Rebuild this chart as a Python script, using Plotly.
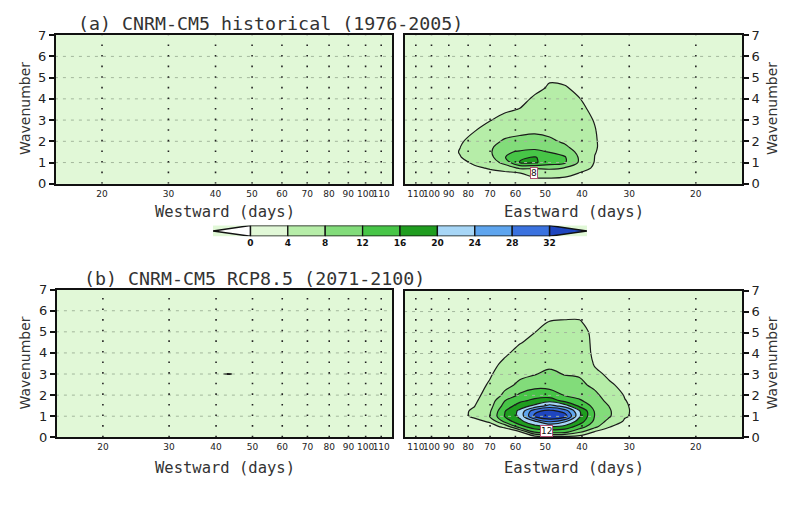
import numpy as np
import plotly.graph_objects as go

# ---------------- data ----------------
period_ticks = [20, 30, 40, 50, 60, 70, 80, 90, 100, 110]
wavenumber_ticks = [0, 1, 2, 3, 4, 5, 6, 7]
grid_wavenumbers = [1, 2, 3, 4, 5, 6]
levels = [0, 4, 8, 12, 16, 20, 24, 28, 32]
below_color = "#ffffff"
band_colors = ["#e1f8d7", "#b6eda8", "#82dc7a", "#47c547", "#1f9d1f",
               "#a7d6f6", "#5ea5ee", "#3a72df", "#1f46bf"]   # 0-4 ... >32

period_min, period_max = 15, 118

# eastward power (rows = wavenumber, columns = period)
k_rows = [0, 0.25, 0.5, 0.75, 1, 1.25, 1.5, 1.75, 2, 2.5, 3, 3.5, 4, 4.5, 5, 5.5, 6, 6.5, 7]
east_periods = [118, 95, 84, 77, 70, 64, 58.4, 53.3, 48.7, 44.4, 40.6, 37, 33.8, 30.8, 27.3, 22, 15]

hist_east_cols = [
    [1.0, 1.0, 1.0, 1.0, 1.0, 1.0, 1.0, 1.0, 1.0, 1.0, 1.0, 1.0, 1.0, 1.0, 1.0, 1.0, 1.0, 1.0, 1.0],
    [1.0, 1.2, 1.5, 1.8, 2.0, 2.2, 2.3, 2.2, 2.0, 1.7, 1.4, 1.2, 1.0, 1.0, 1.0, 1.0, 1.0, 1.0, 1.0],
    [1.2, 1.6, 2.2, 2.8, 3.5, 3.9, 4.15, 3.95, 3.6, 2.8, 2.2, 1.8, 1.5, 1.3, 1.2, 1.1, 1.0, 1.0, 1.0],
    [1.5, 2.2, 3.0, 3.7, 4.3, 5.0, 5.5, 5.6, 5.2, 3.9, 3.0, 2.4, 2.0, 1.6, 1.4, 1.2, 1.1, 1.0, 1.0],
    [2.0, 2.8, 3.5, 4.2, 5.5, 6.8, 7.5, 7.3, 6.5, 5.0, 3.9, 3.0, 2.4, 2.0, 1.6, 1.3, 1.1, 1.0, 1.0],
    [2.5, 3.0, 3.3, 5.5, 9.5, 11.8, 11.5, 10.0, 8.6, 6.2, 4.8, 3.6, 2.8, 2.2, 1.8, 1.4, 1.2, 1.0, 1.0],
    [3.0, 3.3, 3.9, 8.8, 16.2, 15.5, 12.4, 10.5, 9.2, 7.0, 5.2, 4.1, 3.2, 2.5, 2.0, 1.6, 1.3, 1.1, 1.0],
    [3.2, 3.8, 5.0, 8.5, 16.5, 16.2, 13.0, 10.8, 9.4, 7.4, 6.0, 5.0, 4.4, 3.4, 2.6, 2.0, 1.6, 1.3, 1.1],
    [3.3, 3.9, 5.2, 9.0, 14.0, 14.5, 11.8, 10.3, 8.7, 7.0, 5.9, 5.1, 4.7, 4.3, 3.7, 2.6, 2.0, 1.6, 1.3],
    [3.1, 3.7, 4.9, 7.9, 12.5, 12.3, 10.5, 8.6, 7.4, 6.2, 5.4, 4.9, 4.5, 4.2, 3.5, 2.6, 2.0, 1.6, 1.3],
    [2.8, 3.3, 3.9, 5.5, 7.4, 7.5, 6.8, 6.0, 5.5, 5.0, 4.7, 4.4, 4.05, 3.5, 2.8, 2.2, 1.8, 1.4, 1.2],
    [2.2, 2.6, 3.0, 3.5, 3.8, 3.95, 4.1, 4.2, 4.2, 4.1, 3.9, 3.6, 3.2, 2.8, 2.3, 1.9, 1.6, 1.3, 1.1],
    [1.8, 2.0, 2.3, 2.6, 2.8, 3.0, 3.1, 3.1, 3.0, 2.9, 2.7, 2.5, 2.3, 2.1, 1.9, 1.6, 1.4, 1.2, 1.0],
    [1.6, 1.7, 1.9, 2.0, 2.2, 2.3, 2.3, 2.3, 2.3, 2.2, 2.1, 2.0, 1.9, 1.8, 1.6, 1.4, 1.3, 1.1, 1.0],
    [1.4, 1.5, 1.6, 1.7, 1.8, 1.9, 1.9, 1.9, 1.9, 1.8, 1.8, 1.7, 1.6, 1.5, 1.4, 1.3, 1.2, 1.1, 1.0],
    [1.2, 1.3, 1.4, 1.4, 1.5, 1.5, 1.5, 1.5, 1.5, 1.5, 1.4, 1.4, 1.3, 1.3, 1.2, 1.2, 1.1, 1.0, 1.0],
    [1.0, 1.0, 1.0, 1.0, 1.0, 1.0, 1.0, 1.0, 1.0, 1.0, 1.0, 1.0, 1.0, 1.0, 1.0, 1.0, 1.0, 1.0, 1.0],
]

rcp_east_cols = [
    [1.0, 1.0, 1.0, 1.0, 1.0, 1.0, 1.0, 1.0, 1.0, 1.0, 1.0, 1.0, 1.0, 1.0, 1.0, 1.0, 1.0, 1.0, 1.0],
    [0.9, 1.0, 1.2, 1.5, 1.8, 1.9, 1.9, 1.8, 1.7, 1.5, 1.4, 1.3, 1.2, 1.1, 1.0, 1.0, 1.0, 1.0, 1.0],
    [0.9, 1.2, 1.7, 2.4, 3.3, 3.2, 2.9, 2.6, 2.4, 2.0, 1.8, 1.6, 1.5, 1.4, 1.3, 1.2, 1.1, 1.0, 1.0],
    [1.0, 1.4, 2.2, 3.2, 4.4, 4.5, 3.9, 3.5, 3.2, 2.7, 2.3, 2.0, 1.8, 1.6, 1.4, 1.3, 1.2, 1.1, 1.0],
    [1.2, 1.8, 3.0, 4.3, 8.2, 7.6, 6.6, 5.8, 5.2, 4.4, 3.7, 3.1, 2.6, 2.2, 1.9, 1.6, 1.4, 1.2, 1.1],
    [1.3, 2.2, 4.5, 13.0, 16.2, 15.8, 13.5, 11.9, 9.0, 6.8, 5.6, 4.6, 3.6, 2.9, 2.4, 2.0, 1.7, 1.4, 1.2],
    [1.5, 3.2, 14.0, 18.9, 20.8, 21.0, 18.0, 15.0, 12.8, 8.8, 7.2, 6.0, 4.9, 3.9, 3.2, 2.6, 2.1, 1.7, 1.4],
    [1.5, 12.5, 18.5, 23.0, 33.0, 31.0, 21.0, 17.0, 14.5, 10.5, 7.9, 6.8, 5.8, 4.7, 4.0, 3.2, 2.5, 2.0, 1.6],
    [2.0, 13.5, 19.5, 28.5, 36.0, 33.5, 25.5, 18.5, 14.0, 10.5, 8.6, 7.4, 6.5, 5.6, 4.8, 4.1, 3.2, 2.5, 2.0],
    [2.0, 13.0, 18.5, 24.5, 34.0, 30.5, 22.0, 14.5, 11.9, 9.5, 7.9, 7.0, 6.1, 5.3, 4.7, 4.2, 3.3, 2.5, 2.0],
    [2.0, 8.5, 14.0, 18.0, 20.5, 20.3, 15.0, 12.5, 10.8, 9.0, 7.6, 6.8, 6.0, 5.3, 4.6, 4.2, 3.3, 2.6, 2.0],
    [1.8, 3.5, 9.0, 11.0, 11.8, 11.6, 10.8, 9.8, 9.0, 7.0, 4.8, 3.7, 3.3, 3.4, 3.6, 3.0, 2.5, 2.1, 1.7],
    [1.5, 2.8, 4.1, 6.5, 8.3, 8.4, 7.8, 6.8, 5.9, 4.4, 3.4, 2.9, 2.7, 2.6, 2.5, 2.2, 1.9, 1.6, 1.4],
    [1.4, 1.9, 2.6, 3.5, 4.3, 4.4, 4.3, 4.1, 3.8, 3.2, 2.7, 2.4, 2.2, 2.1, 2.0, 1.8, 1.6, 1.4, 1.3],
    [1.3, 1.6, 2.0, 2.4, 2.6, 2.7, 2.7, 2.6, 2.5, 2.2, 2.0, 1.9, 1.8, 1.7, 1.6, 1.5, 1.4, 1.3, 1.2],
    [1.2, 1.3, 1.5, 1.6, 1.7, 1.8, 1.8, 1.7, 1.7, 1.6, 1.5, 1.5, 1.4, 1.4, 1.3, 1.3, 1.2, 1.1, 1.1],
    [1.0, 1.0, 1.0, 1.0, 1.0, 1.0, 1.0, 1.0, 1.0, 1.0, 1.0, 1.0, 1.0, 1.0, 1.0, 1.0, 1.0, 1.0, 1.0],
]

# westward power (rows = wavenumber, columns = period)
hist_west_periods = [15, 45, 118]
hist_west_rows = [0, 3.5, 7]
hist_west = [
    [1.3, 1.4, 1.3],
    [1.5, 1.6, 1.5],
    [1.3, 1.4, 1.3],
]
rcp_west_periods = [15, 20, 30, 40, 43, 46, 60, 80, 118]
rcp_west_rows = [0, 1, 2, 2.85, 3, 3.15, 4, 5, 6, 7]
rcp_west = [
    [1.3, 1.3, 1.4, 1.4, 1.4, 1.4, 1.4, 1.3, 1.3],
    [1.4, 1.5, 1.6, 1.7, 1.7, 1.7, 1.6, 1.5, 1.4],
    [1.5, 1.6, 1.8, 1.9, 1.9, 1.9, 1.8, 1.6, 1.5],
    [1.5, 1.6, 1.8, 2.0, 2.0, 2.0, 1.8, 1.6, 1.5],
    [1.5, 1.6, 1.8, 3.4, 4.3, 3.4, 1.8, 1.6, 1.5],
    [1.5, 1.6, 1.8, 2.0, 2.0, 2.0, 1.8, 1.6, 1.5],
    [1.5, 1.6, 1.7, 1.8, 1.8, 1.8, 1.7, 1.6, 1.5],
    [1.4, 1.5, 1.6, 1.6, 1.6, 1.6, 1.6, 1.5, 1.4],
    [1.3, 1.4, 1.5, 1.5, 1.5, 1.5, 1.5, 1.4, 1.3],
    [1.2, 1.3, 1.3, 1.3, 1.3, 1.3, 1.3, 1.3, 1.2],
]

# contour labels (period, wavenumber, text)
hist_label = (53.6, 0.5, "8")
rcp_label = (49.5, 0.28, "12")

titles = ["(a) CNRM-CM5 historical (1976-2005)", "(b) CNRM-CM5 RCP8.5 (2071-2100)"]

# ---------------- figure ----------------
W, H = 792, 523
def fx(px):
    return px / W
def fy(py):
    return 1 - py / H

panels = {
    "a_w": ((56, 392), (29, 182)),
    "a_e": ((405, 742), (29, 182)),
    "b_w": ((57, 392), (291, 443)),
    "b_e": ((405, 742), (292, 443)),
}
axis_ids = {"a_w": ("x", "y"), "a_e": ("x2", "y2"), "b_w": ("x3", "y3"), "b_e": ("x4", "y4")}

n_bands = len(band_colors)
colorscale = [[j / (n_bands - 1), band_colors[j]] for j in range(n_bands)]
step = levels[1] - levels[0]

fig = go.Figure()

def add_contour(xv, yv, z, key):
    xa, ya = axis_ids[key]
    fig.add_trace(go.Contour(
        x=xv, y=yv, z=z, xaxis=xa, yaxis=ya,
        autocontour=False,
        contours=dict(start=levels[1], end=levels[-1], size=step, coloring="fill", showlines=True),
        line=dict(color="#1a1a1a", width=1.2, smoothing=1.0),
        colorscale=colorscale, zmin=levels[1] - step / 2, zmax=levels[-1] + step / 2,
        showscale=False, hoverinfo="skip"))

add_contour(hist_west_periods, hist_west_rows, hist_west, "a_w")
add_contour(east_periods, k_rows, np.array(hist_east_cols).T.tolist(), "a_e")
add_contour(rcp_west_periods, rcp_west_rows, rcp_west, "b_w")
add_contour(east_periods, k_rows, np.array(rcp_east_cols).T.tolist(), "b_e")

for key, (xa, ya) in axis_ids.items():
    vx, vy = [], []
    for t in period_ticks:
        vx += [t, t, None]
        vy += [wavenumber_ticks[0], wavenumber_ticks[-1], None]
    hx, hy = [], []
    for k in grid_wavenumbers:
        hx += [period_min, period_max, None]
        hy += [k, k, None]
    fig.add_trace(go.Scatter(x=hx, y=hy, xaxis=xa, yaxis=ya, mode="lines",
                             line=dict(color="#a3b79c", width=1, dash="3px,5px"),
                             hoverinfo="skip", showlegend=False))
    fig.add_trace(go.Scatter(x=vx, y=vy, xaxis=xa, yaxis=ya, mode="lines",
                             line=dict(color="#222222", width=1.6, dash="1.6px,9px"),
                             hoverinfo="skip", showlegend=False))

# colour bar (own axes)
cb_x, cb_y = "x5", "y5"
for i in range(len(levels) - 1):
    x0, x1 = levels[i], levels[i + 1]
    fig.add_trace(go.Scatter(x=[x0, x1, x1, x0, x0], y=[0, 0, 1, 1, 0], xaxis=cb_x, yaxis=cb_y,
                             mode="lines", fill="toself", fillcolor=band_colors[i],
                             line=dict(color="#111111", width=1.3), hoverinfo="skip", showlegend=False))
tri = step
fig.add_trace(go.Scatter(x=[levels[0], levels[0] - tri, levels[0], levels[0]], y=[1, 0.5, 0, 1],
                         xaxis=cb_x, yaxis=cb_y, mode="lines", fill="toself", fillcolor=below_color,
                         line=dict(color="#111111", width=1.5), hoverinfo="skip", showlegend=False))
fig.add_trace(go.Scatter(x=[levels[-1], levels[-1] + tri, levels[-1], levels[-1]], y=[1, 0.5, 0, 1],
                         xaxis=cb_x, yaxis=cb_y, mode="lines", fill="toself", fillcolor=band_colors[-1],
                         line=dict(color="#111111", width=1.5), hoverinfo="skip", showlegend=False))

font_main = "DejaVu Sans"
font_title = "DejaVu Sans Mono"
axis_common = dict(showline=True, linecolor="#111111", linewidth=2, mirror=True,
                   showgrid=False, zeroline=False)
lay = dict(width=W, height=H, margin=dict(l=0, r=0, t=0, b=0),
           paper_bgcolor="white", plot_bgcolor=band_colors[0], showlegend=False,
           font=dict(family=font_main, color="#222222"))

lo, hi = np.log10(period_min + 0.1), np.log10(period_max - 0.5)
for n, key in enumerate(["a_w", "a_e", "b_w", "b_e"], start=1):
    (x0, x1), (ytop, ybot) = panels[key]
    east = key.endswith("e")
    xname = "xaxis" if n == 1 else f"xaxis{n}"
    yname = "yaxis" if n == 1 else f"yaxis{n}"
    lay[xname] = dict(axis_common, domain=[fx(x0), fx(x1)], type="log",
                      range=[hi, lo] if east else [lo, hi],
                      tickmode="array", tickvals=period_ticks, ticktext=[str(t) for t in period_ticks],
                      ticks="", tickangle=0, tickfont=dict(size=9, family=font_main, color="#222"),
                      anchor=f"y{n}" if n > 1 else "y")
    lay[yname] = dict(axis_common, domain=[fy(ybot), fy(ytop)], range=[0, 7],
                      tickmode="array", tickvals=wavenumber_ticks, ticks="outside", ticklen=5,
                      tickcolor="#111", tickwidth=1.5, side="right" if east else "left",
                      tickfont=dict(size=13, family=font_main, color="#222"),
                      anchor=f"x{n}" if n > 1 else "x")

lay["xaxis5"] = dict(domain=[fx(213), fx(587)], range=[levels[0] - step, levels[-1] + step],
                     anchor="y5", showgrid=False, zeroline=False, showline=False,
                     tickmode="array", tickvals=levels, ticktext=[f"<b>{v}</b>" for v in levels],
                     ticks="", tickangle=0, tickfont=dict(size=9, family=font_main, color="#111"))
lay["yaxis5"] = dict(domain=[fy(236), fy(225)], range=[0, 1], anchor="x5", visible=False)
fig.update_layout(**lay)

ann = []
ann.append(dict(text=titles[0], x=fx(76), y=fy(17), xanchor="left", yanchor="middle",
                font=dict(size=18.3, family=font_title, color="#333")))
ann.append(dict(text=titles[1], x=fx(82), y=fy(280), xanchor="left", yanchor="middle",
                font=dict(size=18.3, family=font_title, color="#333")))
for yy in (211, 475):
    ann.append(dict(text="Westward (days)", x=fx(225), y=fy(yy), xanchor="center", yanchor="middle",
                    font=dict(size=15.5, family=font_title, color="#333")))
    ann.append(dict(text="Eastward (days)", x=fx(574), y=fy(yy), xanchor="center", yanchor="middle",
                    font=dict(size=15.5, family=font_title, color="#333")))
for yy in (105, 367):
    ann.append(dict(text="Wavenumber", x=fx(25), y=fy(yy), textangle=-90, xanchor="center",
                    yanchor="middle", font=dict(size=14, color="#333")))
    ann.append(dict(text="Wavenumber", x=fx(772), y=fy(yy), textangle=-90, xanchor="center",
                    yanchor="middle", font=dict(size=14, color="#333")))
for (p, k, t), xa, ya in [(hist_label, "x2", "y2"), (rcp_label, "x4", "y4")]:
    ann.append(dict(text=t, x=np.log10(p), y=k, xref=xa, yref=ya, showarrow=False,
                    bgcolor="white", bordercolor="#b05070", borderwidth=1, borderpad=0,
                    font=dict(size=9, color="#111")))
for a in ann:
    a.setdefault("xref", "paper")
    a.setdefault("yref", "paper")
    a.setdefault("showarrow", False)
fig.update_layout(annotations=ann)

fig.write_html("out.html")
